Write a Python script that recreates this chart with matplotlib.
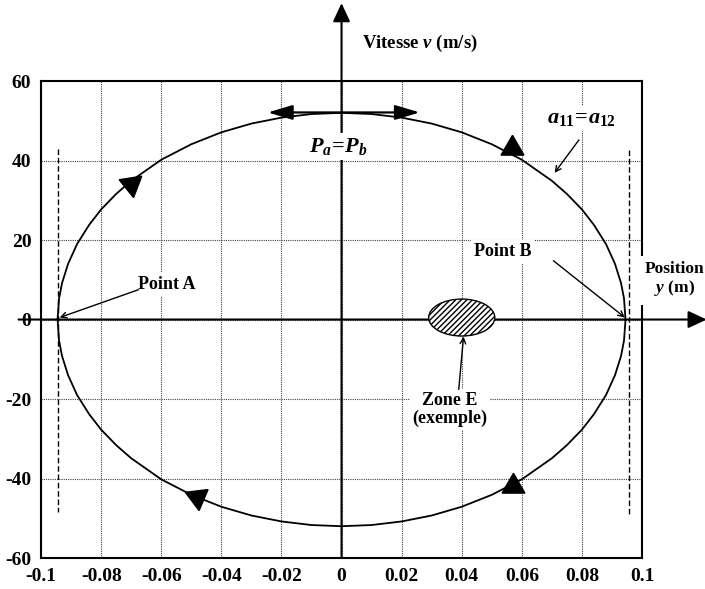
import matplotlib
matplotlib.use("Agg")
import matplotlib.pyplot as plt
from matplotlib.patches import Ellipse

plt.rcParams["font.family"] = ["Liberation Serif", "DejaVu Serif"]
plt.rcParams["font.weight"] = "bold"
plt.rcParams["axes.unicode_minus"] = False
plt.rcParams["mathtext.fontset"] = "custom"
plt.rcParams["mathtext.it"] = "Liberation Serif:italic:bold"
plt.rcParams["mathtext.rm"] = "Liberation Serif:bold"

# trajectoire
traj_x = [-0.0945, -0.094, -0.093, -0.091, -0.088, -0.084, -0.08, -0.075, -0.07,
          -0.06, -0.05, -0.04, -0.03, -0.02, -0.01, 0.0, 0.01, 0.02, 0.03, 0.04,
          0.05, 0.06, 0.07, 0.075, 0.08, 0.084, 0.088, 0.091, 0.093, 0.094, 0.0945]
traj_v_haut = [0, 5.3, 9.2, 14.0, 19.0, 23.8, 27.7, 31.6, 34.9, 40.2, 44.1, 47.1,
               49.3, 50.8, 51.7, 52.0, 51.7, 50.8, 49.3, 47.1, 44.1, 40.2, 34.9,
               31.6, 27.7, 23.8, 19.0, 14.0, 9.2, 5.3, 0]
traj_v_bas = [0, -5.3, -9.2, -14.0, -19.0, -23.8, -27.7, -31.6, -34.9, -40.2, -44.1,
              -47.1, -49.3, -50.8, -51.7, -52.0, -51.7, -50.8, -49.3, -47.1, -44.1,
              -40.2, -34.9, -31.6, -27.7, -23.8, -19.0, -14.0, -9.2, -5.3, 0]

# fleches de sens de parcours (x, v, angle du triangle)
fleche_x = [-0.070, 0.0566, 0.057, -0.048]
fleche_v = [34.0, 43.2, -41.9, -44.7]
fleche_rot = [-51, 0, 0, 67]

# limites verticales en pointilles
limite_x = [-0.0942, 0.0955]
limite_v_haut = [43.0, 42.7]
limite_v_bas = [-48.5, -49.0]

# zone E
zone_x, zone_v = 0.040, 0.5
zone_largeur, zone_hauteur = 0.022, 9.3

xticks = [-0.1, -0.08, -0.06, -0.04, -0.02, 0, 0.02, 0.04, 0.06, 0.08, 0.1]
xtick_labels = ["-0.1", "-0.08", "-0.06", "-0.04", "-0.02", "0", "0.02", "0.04",
                "0.06", "0.08", "0.1"]
yticks = [-60, -40, -20, 0, 20, 40, 60]

fig = plt.figure(figsize=(7.05, 5.89), dpi=100)
ax = fig.add_axes([0.0582, 0.0526, 0.8525, 0.8098])
ax.set_xlim(-0.1, 0.1)
ax.set_ylim(-60, 60)
ax.set_xticks(xticks)
ax.set_xticklabels(xtick_labels)
ax.set_yticks(yticks)
ax.tick_params(length=0, labelsize=14, pad=7)
for s in ax.spines.values():
    s.set_linewidth(1.5)
ax.grid(True, color="0.25", ls=(0, (1, 1)), lw=0.8)

# axes avec fleches
fl = dict(arrowstyle="-|>,head_length=0.75,head_width=0.35", color="k", lw=1.5,
          mutation_scale=15, shrinkA=0, shrinkB=0)
ax.annotate("", xy=(0, 79.6), xytext=(0, -60), arrowprops=fl, annotation_clip=False)
ax.annotate("", xy=(0.1215, 0), xytext=(-0.1075, 0), arrowprops=fl, annotation_clip=False)

# trajectoire
ax.plot(traj_x, traj_v_haut, color="k", lw=1.3, zorder=4)
ax.plot(traj_x, traj_v_bas, color="k", lw=1.3, zorder=4)
for x, v, r in zip(fleche_x, fleche_v, fleche_rot):
    ax.plot([x], [v], marker=(3, 0, r), ms=19, color="k", zorder=5)

for x, v1, v2 in zip(limite_x, limite_v_haut, limite_v_bas):
    ax.plot([x, x], [v1, v2], color="k", ls=(0, (4, 2)), lw=1.0, zorder=4)

ax.add_patch(Ellipse((zone_x, zone_v), zone_largeur, zone_hauteur, facecolor="white",
                     edgecolor="k", lw=1.0, hatch="//////", zorder=5))

bb = dict(facecolor="white", edgecolor="none", pad=2)
txt = dict(fontsize=13, fontweight="bold", ha="center", va="center")

# Pa = Pb
ax.annotate("", xy=(-0.0245, 52.1), xytext=(0.026, 52.1),
            arrowprops=dict(arrowstyle="<|-|>,head_length=1.0,head_width=0.3",
                            color="k", lw=1.6, mutation_scale=15, shrinkA=0, shrinkB=0),
            zorder=6)
ax.text(-0.001, 43.5, r"$P_a\!=\!P_b$", fontsize=16, ha="center", va="center",
        bbox=bb, zorder=6)

ax.text(0.080, 50.7, r"$a_{\mathit{11}}\!=\!a_{\mathit{12}}$", fontsize=16,
        ha="center", va="center", bbox=bb, zorder=6)
ax.annotate("", xy=(0.0709, 36.9), xytext=(0.079, 45.2),
            arrowprops=dict(arrowstyle="->", color="k", lw=1.0, shrinkA=0, shrinkB=0))

ax.text(0.0067, 69.5, r"Vitesse $v$ (m/s)", fontsize=13.5, ha="left", va="center",
        clip_on=False)

ax.text(-0.058, 8.8, "Point A", bbox=bb, zorder=6, **txt)
ax.annotate("", xy=(-0.0938, 0.5), xytext=(-0.0676, 7.5),
            arrowprops=dict(arrowstyle="->", color="k", lw=1.0, shrinkA=0, shrinkB=0),
            zorder=6)

ax.text(0.0536, 17.1, "Point B", bbox=bb, zorder=6, **txt)
ax.annotate("", xy=(0.0943, 0.5), xytext=(0.0705, 14.8),
            arrowprops=dict(arrowstyle="->", color="k", lw=1.0, shrinkA=0, shrinkB=0),
            zorder=6)

ax.text(0.1108, 10.0, "Position\n$y$ (m)", fontsize=12.5, ha="center", va="center",
        linespacing=1.1, clip_on=False, zorder=6,
        bbox=dict(facecolor="white", edgecolor="none", pad=5))

ax.text(0.036, -22.6, "Zone E\n(exemple)", linespacing=1.1, bbox=bb, zorder=6, **txt)
ax.annotate("", xy=(0.0406, -4.3), xytext=(0.039, -17.6),
            arrowprops=dict(arrowstyle="->", color="k", lw=1.0, shrinkA=0, shrinkB=0),
            zorder=6)

fig.savefig("out.png", dpi=100)
